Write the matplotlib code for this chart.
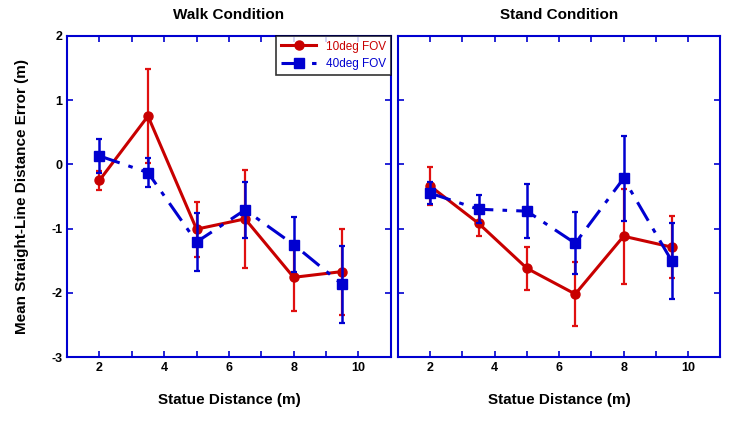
import numpy as np
import matplotlib.pyplot as plt
from matplotlib.ticker import MultipleLocator

plt.rcParams['font.family'] = ['Liberation Sans', 'DejaVu Sans']
plt.rcParams['axes.unicode_minus'] = False

dist = [2, 3.5, 5, 6.5, 8, 9.5]

# walk condition
walk_10 = [-0.25, 0.75, -1.01, -0.85, -1.76, -1.67]
walk_10_err = [0.15, 0.73, 0.43, 0.76, 0.53, 0.67]
walk_40 = [0.13, -0.13, -1.21, -0.71, -1.25, -1.87]
walk_40_err = [0.26, 0.22, 0.45, 0.43, 0.43, 0.60]

# stand condition
stand_10 = [-0.34, -0.92, -1.62, -2.02, -1.12, -1.29]
stand_10_err = [0.29, 0.20, 0.34, 0.50, 0.74, 0.48]
stand_40 = [-0.45, -0.70, -0.73, -1.23, -0.22, -1.51]
stand_40_err = [0.17, 0.22, 0.42, 0.48, 0.66, 0.59]

red = '#c80000'
blue = '#0000d0'

fig = plt.figure(figsize=(7.29, 4.21), dpi=100)
ax1 = fig.add_axes([0.092, 0.152, 0.444, 0.763])
ax2 = fig.add_axes([0.546, 0.152, 0.442, 0.763])

def draw(ax, y10, e10, y40, e40, title):
    ax.errorbar(dist, y10, yerr=e10, fmt='none', ecolor='#e01010', elinewidth=1.6,
                capsize=2, capthick=1.6, zorder=2)
    ax.plot(dist, y10, color=red, lw=2.2, marker='o', ms=6.5, label='10deg FOV', zorder=3)
    ax.errorbar(dist, y40, yerr=e40, fmt='none', ecolor=blue, elinewidth=1.8,
                capsize=2, capthick=1.6, zorder=4)
    ax.plot(dist, y40, color=blue, lw=2.2, marker='s', ms=6.5, label='40deg FOV', zorder=5,
            dashes=(7, 3, 1.5, 3))
    ax.set_xlim(1, 11)
    ax.set_ylim(-3, 2)
    ax.xaxis.set_major_locator(MultipleLocator(2))
    ax.xaxis.set_minor_locator(MultipleLocator(1))
    ax.yaxis.set_major_locator(MultipleLocator(1))
    ax.tick_params(which='both', direction='in', top=True, right=True, color=blue,
                   length=4, width=1.2, labelsize=9)
    for lab in ax.get_xticklabels() + ax.get_yticklabels():
        lab.set_fontweight('bold')
    for s in ax.spines.values():
        s.set_color(blue)
        s.set_linewidth(1.5)
    ax.set_title(title, fontsize=11, fontweight='bold', pad=12)
    ax.set_xlabel('Statue Distance (m)', fontsize=11, fontweight='bold', labelpad=14)

draw(ax1, walk_10, walk_10_err, walk_40, walk_40_err, 'Walk Condition')
draw(ax2, stand_10, stand_10_err, stand_40, stand_40_err, 'Stand Condition')
ax2.set_yticklabels([])
ax1.set_ylabel('Mean Straight-Line Distance Error (m)', fontsize=11, fontweight='bold', labelpad=16)

leg = ax1.legend(loc='upper right', fontsize=8.5, frameon=True, fancybox=False,
                 borderaxespad=0, handlelength=3)
leg.get_frame().set_edgecolor('black')
leg.get_frame().set_linewidth(1.2)
for t, c in zip(leg.get_texts(), [red, blue]):
    t.set_color(c)

fig.savefig('out.png', dpi=100)
